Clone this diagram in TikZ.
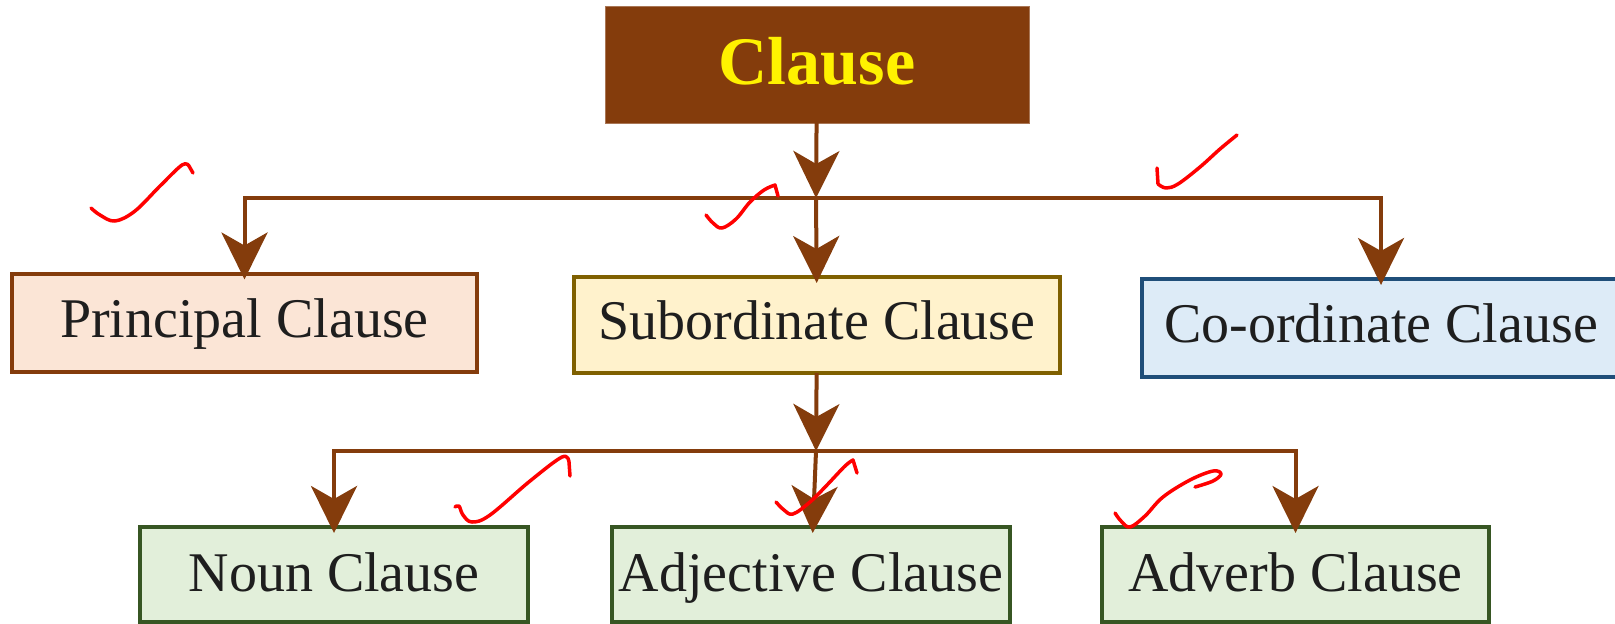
\documentclass[tikz,border=0pt]{standalone}
\usepackage{fontspec}
\setmainfont{Liberation Serif}
\usetikzlibrary{arrows.meta}
\definecolor{clbrown}{HTML}{843C0C}
\definecolor{clpeach}{HTML}{FBE5D6}
\definecolor{clgold}{HTML}{7F6000}
\definecolor{clcream}{HTML}{FFF2CC}
\definecolor{clnavy}{HTML}{1F4E79}
\definecolor{clsky}{HTML}{DDEBF7}
\definecolor{clgreen}{HTML}{375623}
\definecolor{clmint}{HTML}{E2EFDA}
\definecolor{clink}{HTML}{1E1E1E}
\tikzset{
  clausebox/.style={draw, line width=2pt, outer sep=0pt, inner sep=0pt,
    text=clink, font=\fontsize{28}{32}\selectfont,
    text height=20pt, text depth=5.5pt},
  lowbox/.style={clausebox, draw=clgreen, fill=clmint, minimum height=47.5pt,
    text height=21pt, text depth=4pt},
  branch/.style={draw=clbrown, line width=2pt},
  branchto/.style={branch, -{Stealth[length=23.5pt, width=23pt, inset=6.5pt]}, shorten >=-3pt},
  checkmark/.style={red, line width=1.75pt, line cap=round, line join=round}
}
\begin{document}
\begin{tikzpicture}[x=0.5pt,y=-0.5pt]
\useasboundingbox (0,0) rectangle (1615,623);
% Drawing boxes
% Top: Clause
\node[fill=clbrown, draw=clbrown!70!white, line width=0.5pt, outer sep=0pt,
  minimum width=212pt, minimum height=58.5pt, text=yellow,
  text height=20pt, text depth=0pt,
  font=\fontsize{34}{38}\selectfont\bfseries] (clause) at (817,64.5) {Clause};
% Level 1: Principal, Subordinate, Co-ordinate
\node[clausebox, draw=clbrown, fill=clpeach, minimum width=232.5pt, minimum height=49pt]
  (principal) at (244.5,322.5) {Principal Clause};
\node[clausebox, draw=clgold, fill=clcream, minimum width=243pt, minimum height=48pt]
  (subordinate) at (817,325) {Subordinate Clause};
\node[clausebox, draw=clnavy, fill=clsky, minimum width=239pt, minimum height=49pt]
  (coordinate) at (1381,328) {Co-ordinate Clause};
% Level 2: Noun, Adjective, Adverb
\node[lowbox, minimum width=194pt] (noun) at (334,574.5) {Noun Clause};
\node[lowbox, minimum width=199pt] (adjective) at (811,574.5) {Adjective Clause};
\node[lowbox, minimum width=193.5pt] (adverb) at (1295.5,574.5) {Adverb Clause};
% Done with boxes; drawing arrows
\coordinate (topjoin) at (816,198);
\coordinate (midjoin) at (816,451);
\draw[branchto, shorten >=0pt] (clause) -- (topjoin);
\draw[branchto] (topjoin) -| (principal);
\draw[branchto] (topjoin) -- (subordinate);
\draw[branchto] (topjoin) -| (coordinate);
\draw[branchto, shorten >=0pt] (subordinate) -- (midjoin);
\draw[branchto] (midjoin) -| (noun);
\draw[branchto] (midjoin) -- (adjective);
\draw[branchto] (midjoin) -| (adverb);
% Done with arrows; drawing check marks
\draw[checkmark] plot[smooth, tension=0.6] coordinates {(91,208) (100,215) (115,221) (135,211) (160,186) (182,165) (189,166)} -- (193,173);
\draw[checkmark] plot[smooth, tension=0.6] coordinates {(706,215) (713,223) (722,228) (736,219) (750,202) (764,190) (775,185)} -- (778,196);
\draw[checkmark] (1157,168) -- (1158,184) plot[smooth, tension=0.6] coordinates {(1158,184) (1166,188) (1178,184) (1200,167) (1220,149) (1237,135)};
\draw[checkmark] plot[smooth, tension=0.6] coordinates {(455,507) (459,506) (463,515) (472,522) (490,515) (530,481) (562,457) (569,462)} -- (570,476);
\draw[checkmark] plot[smooth, tension=0.6] coordinates {(776,502) (784,510) (793,514) (810,502) (827,485) (845,466) (853,460)} -- (857,473);
\draw[checkmark] plot[smooth, tension=0.6] coordinates {(1115,513) (1121,521) (1130,527) (1145,516) (1163,497) (1190,480) (1213,471) (1221,474) (1213,481) (1195,487)};
% Done with check marks
\end{tikzpicture}
\end{document}
